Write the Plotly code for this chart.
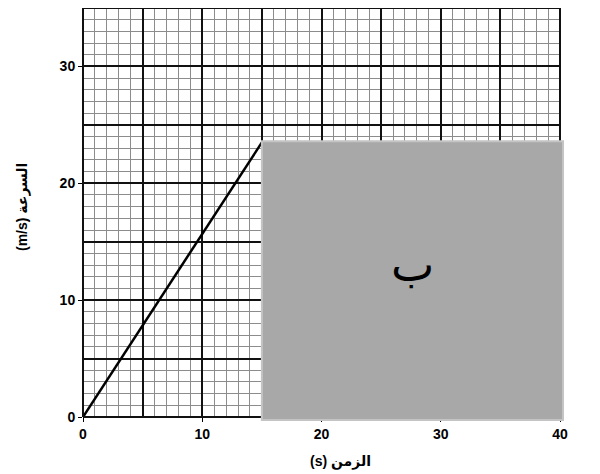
import plotly.graph_objects as go

# Data
time_s = [0, 15]
speed_ms = [0, 23.5]
x_ticks = [0, 10, 20, 30, 40]
y_ticks = [0, 10, 20, 30]
x_range = [0, 40]
y_range = [0, 35]
x_title = "(s) الزمن"
y_title = "(m/s) السرعة"
hidden_label = "ب"
hidden_box = {"x0": 15, "x1": 40.25, "y0": -0.25, "y1": 23.6}

FONT = "Liberation Sans, Arial, DejaVu Sans, sans-serif"

# page offset (body margin) compensation
OFF = 8
L, R, T, B = 83 - OFF, 40 + OFF, 0, 57 + OFF
W, H = 600, 474

fig = go.Figure()
fig.add_trace(go.Scatter(x=time_s, y=speed_ms, mode="lines",
                         line=dict(color="black", width=2.5),
                         xaxis="x2", yaxis="y2", showlegend=False, hoverinfo="skip"))

grid_axis = dict(dtick=5, tick0=0, showgrid=True, gridcolor="#111111", gridwidth=1.8,
                 showticklabels=False, ticks="", zeroline=False, showline=False,
                 minor=dict(dtick=1, tick0=0, showgrid=True, gridcolor="#8c8c8c", gridwidth=1))

xa = dict(grid_axis); xa["range"] = x_range
ya = dict(grid_axis); ya["range"] = y_range


def px_(v):
    return (v - x_range[0]) / (x_range[1] - x_range[0])


def py_(v):
    return (v - y_range[0]) / (y_range[1] - y_range[0])


fig.update_layout(
    width=W, height=H,
    margin=dict(l=L, r=R, t=T, b=B, autoexpand=False),
    paper_bgcolor="white", plot_bgcolor="white",
    xaxis=xa, yaxis=ya,
    xaxis2=dict(overlaying="x", range=x_range, tickvals=x_ticks, showgrid=False, zeroline=False,
                ticks="outside", ticklen=4, tickcolor="black", side="bottom",
                tickfont=dict(family=FONT, size=14, color="black", weight="bold")),
    yaxis2=dict(overlaying="y", range=y_range, tickvals=y_ticks, showgrid=False, zeroline=False,
                ticks="outside", ticklen=4, tickcolor="black", side="left",
                tickfont=dict(family=FONT, size=14, color="black", weight="bold")),
    shapes=[
        dict(type="line", xref="paper", yref="paper", x0=0, x1=1, y0=1, y1=1,
             line=dict(color="#111111", width=2)),
        dict(type="line", xref="paper", yref="paper", x0=0, x1=0, y0=0, y1=1,
             line=dict(color="#111111", width=2)),
        dict(type="line", xref="paper", yref="paper", x0=0, x1=1, y0=0, y1=0,
             line=dict(color="#111111", width=2)),
        dict(type="line", xref="paper", yref="paper", x0=1, x1=1, y0=0, y1=1,
             line=dict(color="#111111", width=2)),
        dict(type="rect", xref="paper", yref="paper", layer="above",
             x0=px_(hidden_box["x0"]), x1=px_(hidden_box["x1"]),
             y0=py_(hidden_box["y0"]), y1=py_(hidden_box["y1"]),
             fillcolor="#a8a8a8", line=dict(color="#c4c4c4", width=2)),
    ],
)

pw, ph = W - L - R, H - T - B


def page_to_paper(px, py):
    fx, fy = px - OFF, py - OFF
    return (fx - L) / pw, (H - B - fy) / ph


ax_x, ax_y = page_to_paper(340, 461)
ay_x, ay_y = page_to_paper(22, 207)

fig.add_annotation(x=27.6, y=13.0, xref="x", yref="y", text=hidden_label, showarrow=False,
                   font=dict(family="DejaVu Sans, sans-serif", size=46, color="black"))
fig.add_annotation(x=ax_x, y=ax_y, xref="paper", yref="paper", text=x_title, showarrow=False,
                   xanchor="center", yanchor="middle",
                   font=dict(family=FONT, size=14, color="black", weight="bold"))
fig.add_annotation(x=ay_x, y=ay_y, xref="paper", yref="paper", text=y_title, showarrow=False,
                   xanchor="center", yanchor="middle",
                   textangle=-90, font=dict(family=FONT, size=14, color="black", weight="bold"))

fig.write_html("out.html")
